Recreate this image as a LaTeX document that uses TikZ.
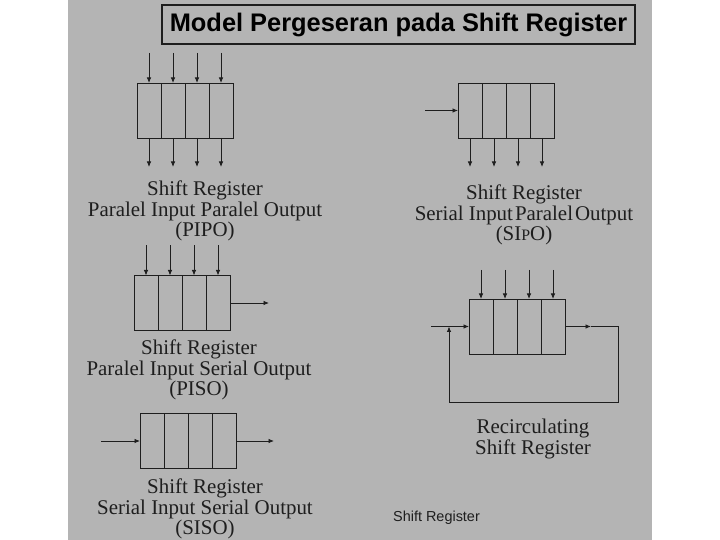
\documentclass[tikz,border=0pt]{standalone}
\usepackage{fontspec}
\setmainfont{Liberation Serif}
\setsansfont{Liberation Sans}
\usetikzlibrary{positioning,arrows.meta}

\definecolor{slidegray}{RGB}{180,180,180}
\definecolor{ink}{RGB}{30,30,30}

\tikzset{
  cell/.style={draw=ink, line width=0.9bp, minimum width=24bp, minimum height=55bp,
    inner sep=0pt, outer sep=0pt},
  sig/.style={draw=ink, line width=0.8bp, -{Latex[length=5.5bp,width=4.5bp]}},
  caption/.style={align=center, text=ink, font=\fontsize{21}{20.5}\selectfont},
}

% register of four cells: name, x of left side, y of middle
\newcommand{\shiftreg}[3]{%
  \node[cell, anchor=west] (#1-1) at (#2,#3) {};
  \foreach \i [evaluate=\i as \j using int(\i-1)] in {2,3,4}
    \node[cell, right=0pt of #1-\j] (#1-\i) {};
}

\begin{document}
\begin{tikzpicture}[x=1bp, y=1bp]

    % Background
    \useasboundingbox (0,0) rectangle (720,540);
    \fill[white] (0,0) rectangle (720,540);
    \fill[slidegray] (68,0) rectangle (652,540);

    % Title
    \node[draw=ink, line width=1.6bp, fill=slidegray, minimum width=473bp,
      minimum height=39bp, text=black,
      font=\sffamily\bfseries\fontsize{25.5}{25.5}\selectfont]
      (title) at (398.5,515.5) {Model Pergeseran pada Shift Register};

    % PIPO
    \shiftreg{pipo}{137}{429.5}
    \foreach \i in {1,...,4} {
        \coordinate (pipo-in\i) at ([yshift=30bp]pipo-\i.north);
        \coordinate (pipo-out\i) at ([yshift=-29bp]pipo-\i.south);
        \draw[sig] (pipo-in\i) -- (pipo-\i.north);
        \draw[sig] (pipo-\i.south) -- (pipo-out\i);
    }
    \node[caption] (pipo-label) at (205,329)
        {Shift Register\\Paralel Input Paralel Output\\(PIPO)};

    % SIPO
    \shiftreg{sipo}{458}{429.5}
    \coordinate (sipo-in) at ([xshift=-33bp]sipo-1.west);
    \draw[sig] (sipo-in) -- (sipo-1.west);
    \foreach \i in {1,...,4} {
        \coordinate (sipo-out\i) at ([yshift=-29bp]sipo-\i.south);
        \draw[sig] (sipo-\i.south) -- (sipo-out\i);
    }
    \node[caption] (sipo-label) at (524,325)
        {Shift Register\\Serial Input\kern2bp Paralel\kern2bp Output\\(SI{\fontsize{16}{16}\selectfont P}O)};

    % PISO
    \shiftreg{piso}{134}{237}
    \foreach \i in {1,...,4} {
        \coordinate (piso-in\i) at ([yshift=30bp]piso-\i.north);
        \draw[sig] (piso-in\i) -- (piso-\i.north);
    }
    \coordinate (piso-out) at ([xshift=39bp]piso-4.east);
    \draw[sig] (piso-4.east) -- (piso-out);
    \node[caption] (piso-label) at (199,170)
        {Shift Register\\Paralel Input Serial Output\\(PISO)};

    % SISO
    \shiftreg{siso}{140}{99}
    \coordinate (siso-in) at ([xshift=-39bp]siso-1.west);
    \coordinate (siso-out) at ([xshift=38bp]siso-4.east);
    \draw[sig] (siso-in) -- (siso-1.west);
    \draw[sig] (siso-4.east) -- (siso-out);
    \node[caption] (siso-label) at (205,31)
        {Shift Register\\Serial Input Serial Output\\(SISO)};

    % Recirculating
    \shiftreg{rec}{469}{213.5}
    \foreach \i in {1,...,4} {
        \coordinate (rec-in\i) at ([yshift=29bp]rec-\i.north);
        \draw[sig] (rec-in\i) -- (rec-\i.north);
    }
    \coordinate (rec-in) at ([xshift=-38bp]rec-1.west);
    \coordinate (rec-join) at ([xshift=-20bp]rec-1.west);
    \coordinate (rec-mid) at ([xshift=26bp]rec-4.east);
    \coordinate (rec-loop) at (618,138);
    \draw[sig] (rec-in) -- (rec-1.west);
    \draw[sig] (rec-4.east) -- (rec-mid);
    \draw[sig] (rec-mid) -| (rec-loop) -| (rec-join);
    \node[caption] (rec-label) at (533,101)
        {Recirculating\\Shift Register};

    % Footer
    \node[text=ink, font=\sffamily\fontsize{14.5}{14.5}\selectfont]
        (footer) at (436.5,22) {Shift Register};

\end{tikzpicture}
\end{document}
